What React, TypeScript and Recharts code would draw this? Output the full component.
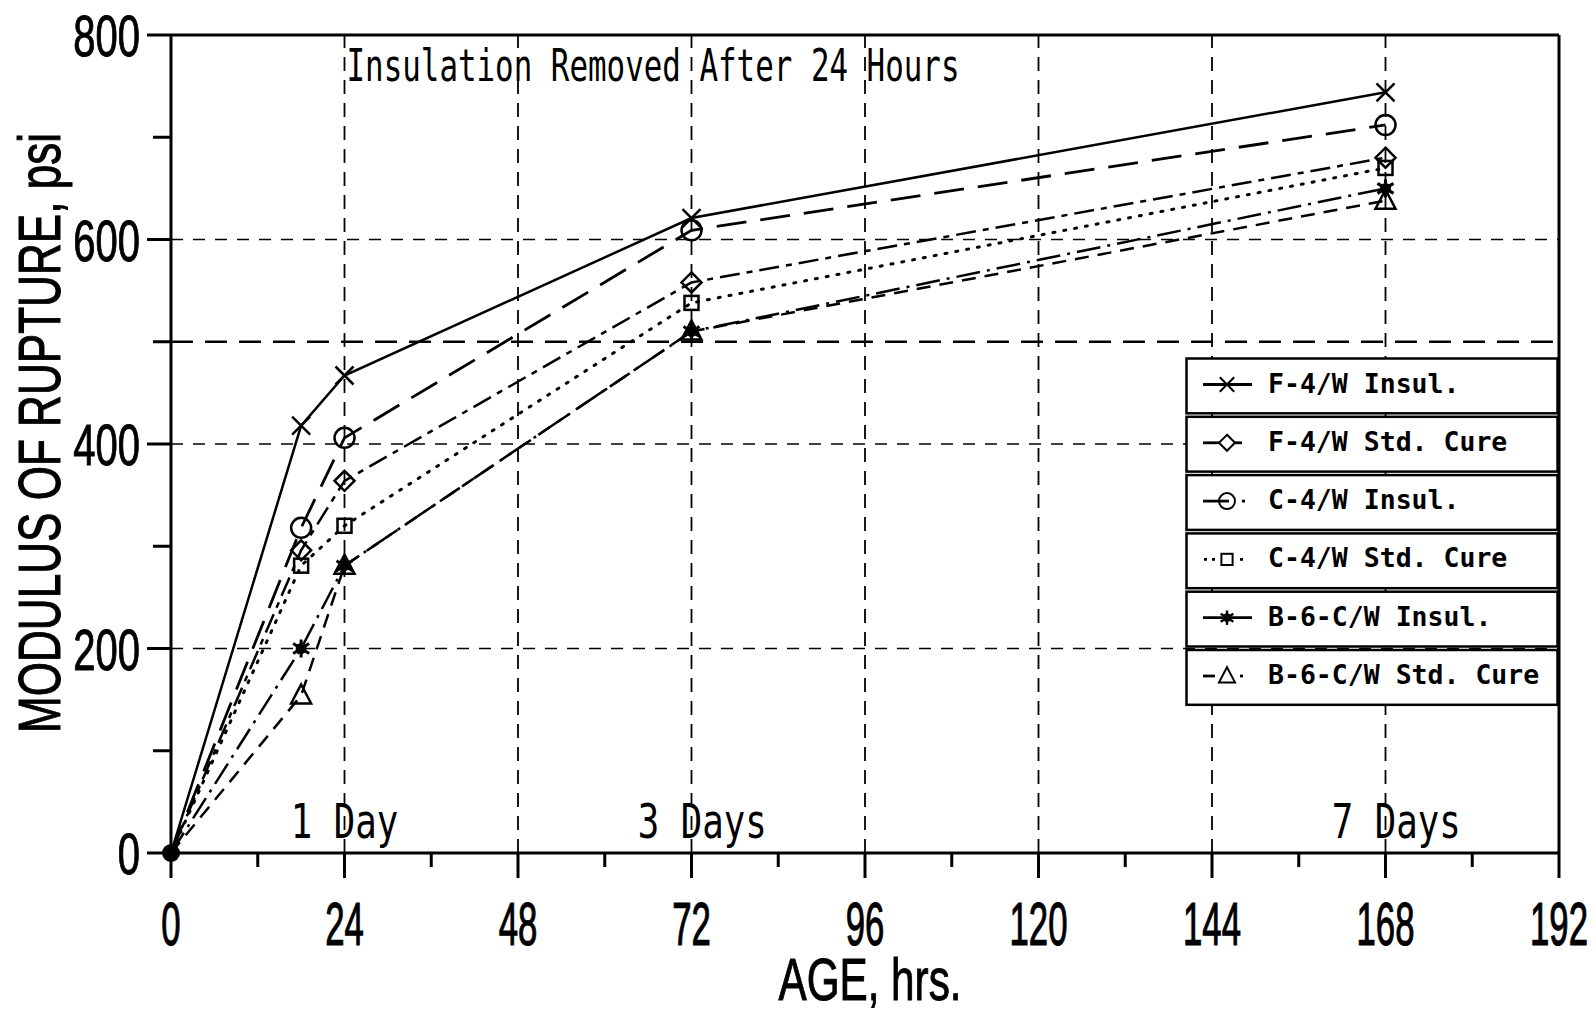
import React from "react";
import { LineChart, Line, XAxis, YAxis, ReferenceLine, Legend } from "recharts";

// ages in hours, and modulus of rupture (psi)
const hours = [0, 18, 24, 72, 168];
const f4wInsul = [0, 418, 467, 621, 744];
const f4wStd = [0, 296, 364, 558, 680];
const c4wInsul = [0, 318, 406, 609, 712];
const c4wStd = [0, 281, 320, 538, 670];
const b6cwInsul = [0, 200, 281, 510, 650];
const b6cwStd = [0, 154, 281, 510, 638];

const xTicks = [0, 12, 24, 36, 48, 60, 72, 84, 96, 108, 120, 132, 144, 156, 168, 180, 192];
const yTicks = [0, 100, 200, 300, 400, 500, 600, 700, 800];
const xGrid = [24, 48, 72, 96, 120, 144, 168];
const yGrid = [200, 400, 600];
const dayNotes: Record<number, string> = { 24: "1 Day", 72: "3 Days", 168: "7 Days" };

const data = hours.map((h, i) => ({
  h,
  f4wInsul: f4wInsul[i],
  f4wStd: f4wStd[i],
  c4wInsul: c4wInsul[i],
  c4wStd: c4wStd[i],
  b6cwInsul: b6cwInsul[i],
  b6cwStd: b6cwStd[i],
}));

type Kind = "x" | "diamond" | "circle" | "square" | "asterisk" | "triangle";

const series: { key: string; label: string; kind: Kind; dash?: string; width: number; icon: number[][] }[] = [
  { key: "f4wInsul", label: "F-4/W Insul.", kind: "x", width: 2.5, icon: [[18, 67]] },
  { key: "f4wStd", label: "F-4/W Std. Cure", kind: "diamond", dash: "20 7 6 7", width: 2.5, icon: [[18, 34], [50, 57]] },
  { key: "c4wInsul", label: "C-4/W Insul.", kind: "circle", dash: "30 14", width: 2.8, icon: [[18, 44], [57, 60]] },
  { key: "c4wStd", label: "C-4/W Std. Cure", kind: "square", dash: "2 9", width: 3, icon: [[19, 22], [27, 30], [55, 58]] },
  { key: "b6cwInsul", label: "B-6-C/W Insul.", kind: "asterisk", dash: "24 7 3 7", width: 2.5, icon: [[18, 67]] },
  { key: "b6cwStd", label: "B-6-C/W Std. Cure", kind: "triangle", dash: "14 9", width: 2.5, icon: [[18, 30], [55, 58]] },
];

const INK = "#000";
const mono = "'DejaVu Sans Mono', monospace";
const sans = "'Liberation Sans', Arial, sans-serif";

function Marker({ kind, cx, cy }: { kind: Kind; cx: number; cy: number }) {
  const st = { stroke: INK, strokeWidth: 2.5, fill: "none" };
  switch (kind) {
    case "x":
      return (
        <g {...st}>
          <line x1={cx - 9} y1={cy - 9} x2={cx + 9} y2={cy + 9} />
          <line x1={cx - 9} y1={cy + 9} x2={cx + 9} y2={cy - 9} />
        </g>
      );
    case "diamond":
      return <polygon {...st} points={`${cx},${cy - 10} ${cx + 10},${cy} ${cx},${cy + 10} ${cx - 10},${cy}`} />;
    case "circle":
      return <circle {...st} cx={cx} cy={cy} r={10} />;
    case "square":
      return <rect {...st} x={cx - 7} y={cy - 7} width={14} height={14} />;
    case "asterisk":
      return (
        <g stroke={INK} strokeWidth={3}>
          <line x1={cx} y1={cy - 9} x2={cx} y2={cy + 9} />
          <line x1={cx - 8} y1={cy - 5} x2={cx + 8} y2={cy + 5} />
          <line x1={cx - 8} y1={cy + 5} x2={cx + 8} y2={cy - 5} />
          <circle cx={cx} cy={cy} r={4} fill={INK} />
        </g>
      );
    case "triangle":
      return <polygon {...st} points={`${cx},${cy - 11} ${cx + 10},${cy + 8} ${cx - 10},${cy + 8}`} />;
  }
}

const makeDot = (kind: Kind, origin: boolean) => (p: any) => {
  if (p.payload.h === 0) {
    return origin ? <circle key={p.index} cx={p.cx} cy={p.cy} r={9} fill={INK} /> : <g key={p.index} />;
  }
  return (
    <g key={p.index}>
      <Marker kind={kind} cx={p.cx} cy={p.cy} />
    </g>
  );
};

const YTick = ({ x, y, payload }: any) => {
  const major = payload.value % 200 === 0;
  return (
    <g>
      <line x1={x - (major ? 24 : 18)} x2={x} y1={y} y2={y} stroke={INK} strokeWidth={3} />
      {major && (
        <text transform={`translate(${x - 31},${y + 21}) scale(0.69,1)`} textAnchor="end" fontFamily={sans} fontSize={58} fill={INK} stroke={INK} strokeWidth={1}>
          {payload.value}
        </text>
      )}
    </g>
  );
};

const XTick = ({ x, y, payload }: any) => {
  const major = payload.value % 24 === 0;
  return (
    <g>
      <line x1={x} x2={x} y1={y} y2={y + (major ? 25 : 14)} stroke={INK} strokeWidth={3} />
      {major && (
        <text transform={`translate(${x},${y + 92}) scale(0.56,1)`} textAnchor="middle" fontFamily={sans} fontSize={62} fill={INK} stroke={INK} strokeWidth={1.2}>
          {payload.value}
        </text>
      )}
    </g>
  );
};

const renderLegend = () => {
  const rowH = 58.3;
  return (
    <svg width={374} height={352} style={{ display: "block" }}>
      {series.map((s, i) => {
        const top = i * rowH + 1.5;
        const cy = top + 26;
        return (
          <g key={s.key}>
            <rect x={1.5} y={top} width={371} height={rowH - 3.5} fill="#fff" stroke={INK} strokeWidth={2.5} />
            {s.icon.map(([a, b], j) => (
              <line key={j} x1={a} x2={b} y1={cy} y2={cy} stroke={INK} strokeWidth={2.8} />
            ))}
            <g transform={`translate(${42},${cy}) scale(0.8)`}>
              <Marker kind={s.kind} cx={0} cy={0} />
            </g>
            <text x={83} y={top + 34} fontFamily={mono} fontWeight="bold" fontSize={26.5} fill={INK}>
              {s.label}
            </text>
          </g>
        );
      })}
    </svg>
  );
};

const noteLabel = (h: number) => (props: any) => {
  const vb = props.viewBox;
  const note = dayNotes[h];
  const cw = 21.5;
  return (
    <g>
      {note && (
        <text x={vb.x - 2.5 * cw} y={vb.y + vb.height - 15} fontFamily={mono} fontSize={48} textLength={cw * note.length} lengthAdjust="spacingAndGlyphs" fill={INK}>
          {note}
        </text>
      )}
      {h === 24 && (
        <text x={vb.x + 2} y={vb.y + 46} fontFamily={mono} fontSize={44} textLength={613} lengthAdjust="spacingAndGlyphs" fill={INK}>
          Insulation Removed After 24 Hours
        </text>
      )}
    </g>
  );
};

export default function App() {
  return (
    <div style={{ position: "absolute", left: 0, top: 0, width: 1596, height: 1015, background: "#fff" }}>
      <LineChart width={1596} height={1015} data={data} margin={{ top: 35, right: 37, bottom: 0, left: 0 }}>
        <XAxis
          type="number"
          dataKey="h"
          domain={[0, 192]}
          ticks={xTicks}
          interval={0}
          tick={<XTick />}
          tickLine={false}
          tickSize={0}
          tickMargin={0}
          axisLine={{ stroke: INK, strokeWidth: 3 }}
          height={162}
          label={{
            content: (p: any) => (
              <text x={p.viewBox.x + p.viewBox.width / 2 + 5} y={1000} textAnchor="middle" fontFamily={sans} fontSize={60} textLength={183} lengthAdjust="spacingAndGlyphs" fill={INK} stroke={INK} strokeWidth={1}>
                AGE, hrs.
              </text>
            ),
          }}
        />
        <YAxis
          type="number"
          domain={[0, 800]}
          ticks={yTicks}
          interval={0}
          tick={<YTick />}
          tickLine={false}
          tickSize={0}
          tickMargin={0}
          axisLine={{ stroke: INK, strokeWidth: 3 }}
          width={171}
          label={{
            content: (p: any) => (
              <text
                transform={`translate(60,${p.viewBox.y + p.viewBox.height / 2 - 11}) rotate(-90)`}
                textAnchor="middle"
                fontFamily={sans}
                fontSize={60}
                textLength={600}
                lengthAdjust="spacingAndGlyphs"
                fill={INK}
                stroke={INK}
                strokeWidth={1}
              >
                MODULUS OF RUPTURE, psi
              </text>
            ),
          }}
        />
        {yGrid.map((v) => (
          <ReferenceLine key={v} y={v} stroke={INK} strokeWidth={1.6} strokeDasharray="12 10" />
        ))}
        <ReferenceLine y={500} stroke={INK} strokeWidth={2.6} strokeDasharray="22 12" />
        {xGrid.map((v) => (
          <ReferenceLine key={v} x={v} stroke={INK} strokeWidth={1.8} strokeDasharray="14 9" label={{ content: noteLabel(v) }} />
        ))}
        <ReferenceLine y={800} stroke={INK} strokeWidth={3} />
        <ReferenceLine x={192} stroke={INK} strokeWidth={3} />
        {series.map((s, i) => (
          <Line
            key={s.key}
            dataKey={s.key}
            type="linear"
            stroke={INK}
            strokeWidth={s.width}
            strokeDasharray={s.dash}
            strokeLinecap={s.kind === "square" ? "round" : "butt"}
            dot={makeDot(s.kind, i === 0)}
            activeDot={false}
            isAnimationActive={false}
          />
        ))}
        <Legend
          layout="horizontal"
          verticalAlign="middle"
          align="center"
          content={renderLegend}
          wrapperStyle={{ left: 1185, top: 357, width: 374, height: 352 }}
        />
      </LineChart>
    </div>
  );
}
